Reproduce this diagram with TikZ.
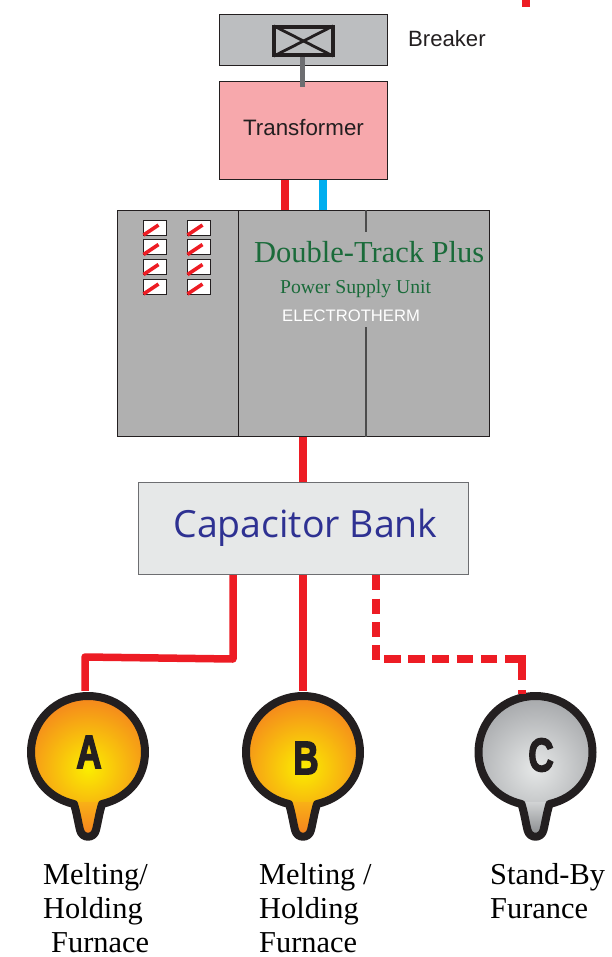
\documentclass[tikz,border=0pt]{standalone}
\usepackage{fontspec}
\usepackage{graphicx}
\setmainfont{Liberation Serif}
\newfontfamily\arialf{Liberation Sans}
\newfontfamily\capf{Open Sans}
\newfontfamily\heavyf{Liberation Sans}[BoldFeatures={FakeBold=3.5}]
\definecolor{brkgray}{HTML}{BCBEC0}
\definecolor{stemgray}{HTML}{6D6E71}
\definecolor{xfpink}{HTML}{F7A8AC}
\definecolor{wirered}{HTML}{ED1C24}
\definecolor{wireblue}{HTML}{00AEEF}
\definecolor{psugray}{HTML}{B0B0B0}
\definecolor{capgray}{HTML}{E6E8E8}
\definecolor{capblue}{HTML}{2E3192}
\definecolor{psugreen}{HTML}{1A6B3A}
\definecolor{inkblack}{HTML}{231F20}
\definecolor{hotorange}{HTML}{F47B20}
\definecolor{hotyellow}{HTML}{FBEE00}
\definecolor{tailhot}{HTML}{F9B016}
\definecolor{coldgray}{HTML}{A0A2A5}
\definecolor{coldlight}{HTML}{E6E8E8}
\definecolor{tailcold}{HTML}{D1D3D4}
\definecolor{tipcold}{HTML}{808285}
\tikzset{
  x=1bp,y=-1bp,
  box/.style={draw=inkblack,line width=0.9bp,inner sep=0pt,anchor=north west},
  wire/.style={draw=wirered,line width=7.5bp},
  wirejoin/.style={wire,line join=round},
  dashwire/.style={draw=wirered,line width=8bp},
  switchbox/.style={draw=inkblack,fill=white,line width=1bp,minimum width=23bp,minimum height=15bp,inner sep=0pt},
  lbl/.style={inner sep=0pt,anchor=base west,text=black,font=\fontsize{30.5}{34}\selectfont},
  furnletter/.style={inner sep=0pt,text=inkblack,font=\heavyf\bfseries\fontsize{47}{47}\selectfont},
  anchorpt/.style={circle,minimum size=122bp,inner sep=0pt},
}
% #1 x centre, #2 name, #3 inner, #4 outer, #5 tail top, #6 tail tip
\newcommand{\furnaceshape}[6]{%
  \begin{scope}[shift={(#1,752)}]
    \def\fpath{(-14,52) .. controls (-40,46) and (-57,26) .. (-57,0)
       .. controls (-57,-31) and (-32,-56) .. (0,-56)
       .. controls (32,-56) and (57,-31) .. (57,0)
       .. controls (57,26) and (40,46) .. (14,52)
       .. controls (11,62) and (10,70) .. (8,78)
       .. controls (6,87) and (-6,87) .. (-8,78)
       .. controls (-10,70) and (-11,62) .. (-14,52) -- cycle}
    \begin{scope}
      \clip \fpath;
      \fill[#4] (-60,-60) rectangle (60,90);
      \shade[inner color=#3,outer color=#4] (0,16) circle (78);
      \shade[top color=#5,bottom color=#6] (-18,50) rectangle (18,87);
    \end{scope}
    \draw[inkblack,line width=8bp,line join=round] \fpath;
    \node[anchorpt] (#2) at (0,0) {};
  \end{scope}}
\begin{document}
\begin{tikzpicture}
\useasboundingbox (0,0) rectangle (612,957);

% boxes
\node[box,fill=brkgray,minimum width=168bp,minimum height=51bp] (breaker) at (219,14) {};
\node[box,fill=xfpink,minimum width=168bp,minimum height=98bp] (xf) at (219,81) {};
\node[inner sep=0pt,font=\arialf\fontsize{22.4}{24}\selectfont,text=inkblack] (xftext) at (303.5,128) {Transformer};
\node[inner sep=0pt,anchor=base west,font=\arialf\fontsize{22.2}{24}\selectfont,text=inkblack] (brklabel) at (408,46) {Breaker};

\node[draw=inkblack,line width=4bp,fill=brkgray,minimum width=59bp,minimum height=28bp,inner sep=0pt] (sym) at (303.5,41) {};
\draw[inkblack,line width=2.8bp,shorten >=2bp,shorten <=2bp] (sym.north west) -- (sym.south east);
\draw[inkblack,line width=2.8bp,shorten >=2bp,shorten <=2bp] (sym.north east) -- (sym.south west);
\coordinate (stemend) at (302.5,87);
\draw[stemgray,line width=5bp] (sym.south -| stemend) -- (stemend);

% wires transformer - PSU
\node[box,fill=psugray,minimum width=372bp,minimum height=226bp] (psu) at (117,210) {};
\coordinate (redx) at (285,0);
\coordinate (bluex) at (322.5,0);
\draw[wire,line width=8bp] (xf.south -| redx) -- (psu.north -| redx);
\draw[wireblue,line width=8bp] (xf.south -| bluex) -- (psu.north -| bluex);

\coordinate (div1) at (238.5,0);
\coordinate (div2a) at (366,232);
\coordinate (div2b) at (366,327);
\draw[inkblack,line width=1bp] (psu.north -| div1) -- (psu.south -| div1);
\draw[black!70,line width=1.2bp] (psu.north -| div2a) -- (div2a);
\draw[black!70,line width=1.2bp] (div2b) -- (psu.south -| div2b);

% switches
\foreach \nm/\xx/\yy in {a/154.5/227.5,b/154.5/247,c/154.5/267,d/154.5/286.5,e/198.5/227.5,f/198.5/247,g/198.5/267,h/198.5/286.5}{
  \node[switchbox] (sw\nm) at (\xx,\yy) {};
  \draw[wirered,line width=3.6bp] ([xshift=-11bp,yshift=-7.5bp]sw\nm.center) -- ([xshift=4bp,yshift=2.5bp]sw\nm.center);
}

% PSU text
\node[inner sep=0pt,anchor=base west,text=psugreen,font=\fontsize{30.6}{32}\selectfont] (dt) at (254,262) {Double-Track Plus};
\node[inner sep=0pt,anchor=base west,text=psugreen,font=\fontsize{19.75}{20}\selectfont] (ps) at (280,293) {Power Supply Unit};
\node[inner sep=0pt,anchor=base west,text=white,font=\arialf\fontsize{16.7}{18}\selectfont] (et) at (282,321) {ELECTROTHERM};

% capacitor
\node[box,draw=stemgray,line width=1.1bp,fill=capgray,minimum width=330bp,minimum height=92bp] (cap) at (138,482) {};
\node[inner sep=0pt,font=\capf\fontsize{37.6}{40}\selectfont,text=capblue] (captext) at (305.5,528) {Capacitor Bank};
\coordinate (psux) at (303,0);
\draw[wire] (psu.south -| psux) -- (cap.north -| psux);

% furnaces
\furnaceshape{88}{fa}{hotyellow}{hotorange}{tailhot}{hotorange}
\furnaceshape{303}{fb}{hotyellow}{hotorange}{tailhot}{hotorange}
\furnaceshape{535.5}{fc}{coldlight}{coldgray}{tailcold}{tipcold}
\node[furnletter] (la) at ([xshift=1bp]fa.center) {\scalebox{.75}[1]{A}};
\node[furnletter] (lb) at ([xshift=3bp,yshift=-6bp]fb.center) {\scalebox{.75}[1]{B}};
\node[furnletter] (lc) at ([xshift=5.5bp,yshift=-3bp]fc.center) {\scalebox{.75}[1]{C}};

% connectors
\coordinate (ja) at (233,659);
\coordinate (jb) at (85,657);
\coordinate (jc) at (375.5,663);
\coordinate (jd) at (384,659);
\coordinate (je) at (521,659);
\coordinate (jf) at (522,655);
\coordinate (jg) at (522,694);
\draw[wirejoin] (cap.south -| ja) -- (ja) -- (jb) -- (jb |- fa.north);
\draw[wire] (cap.south -| fb.north) -- (fb.north);
\draw[dashwire,dash pattern=on 15bp off 8.4bp] (cap.south -| jc) -- (jc);
\draw[dashwire,dash pattern=on 16.5bp off 7.7bp] (jd) -- (je);
\draw[dashwire,dash pattern=on 25bp off 10bp] (jf) -- (jg);

% labels
\node[lbl] (t1) at (43,884) {Melting/};
\node[lbl] (t2) at (43,918) {Holding};
\node[lbl] (t3) at (51,952) {Furnace};
\node[lbl] (t4) at (259,884) {Melting /};
\node[lbl] (t5) at (259,918) {Holding};
\node[lbl] (t6) at (259,952) {Furnace};
\node[lbl] (t7) at (490,884) {Stand-By};
\node[lbl] (t8) at (490,918) {Furance};
\coordinate (mark) at (526,0);
\coordinate (markend) at (526,7);
\draw[wire] (mark) -- (markend);
\end{tikzpicture}
\end{document}
